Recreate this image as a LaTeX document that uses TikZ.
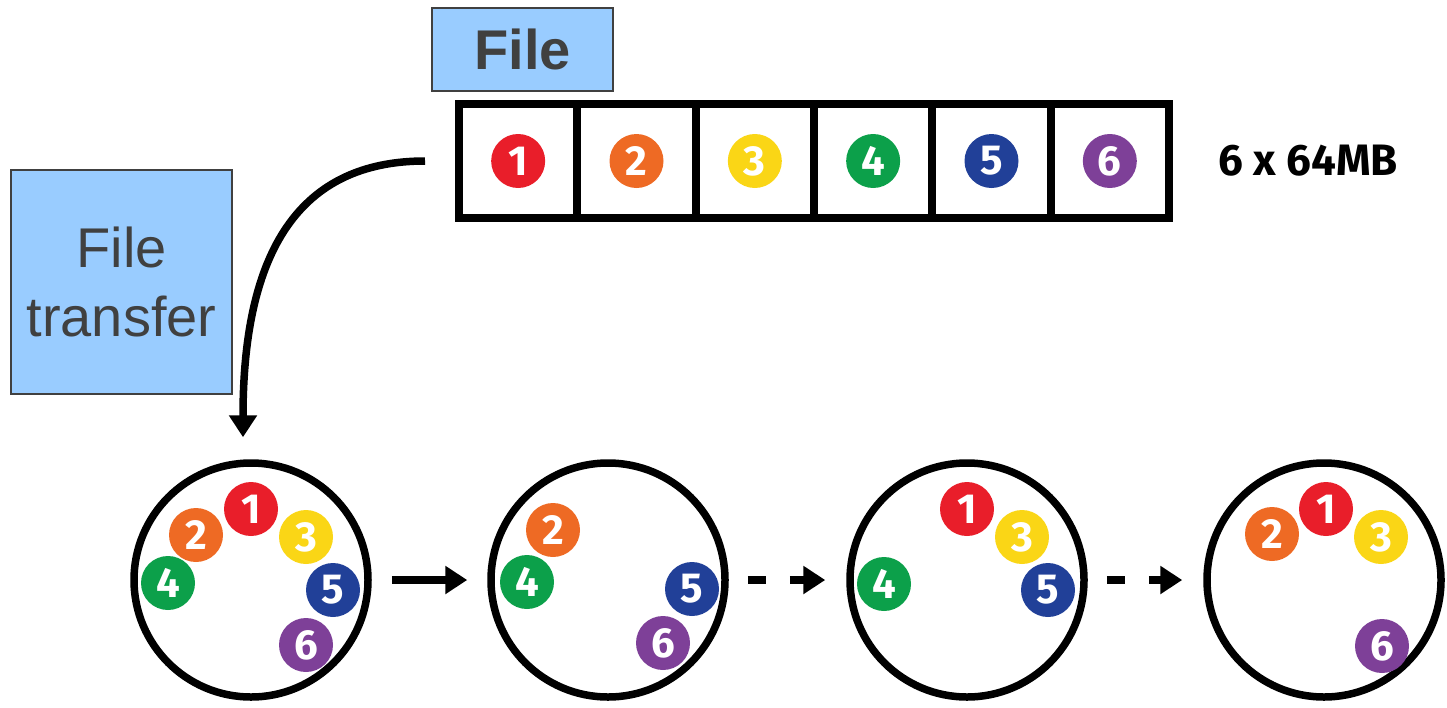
\documentclass[tikz,border=0pt]{standalone}
\usepackage{fontspec}
\setmainfont{Liberation Sans}
\newfontfamily\chunkfont{Fira Sans}
\usepackage{tikz}
\usetikzlibrary{arrows.meta}
\definecolor{1}{RGB}{233,30,42}
\definecolor{2}{RGB}{238,106,36}
\definecolor{3}{RGB}{250,214,22}
\definecolor{4}{RGB}{12,160,74}
\definecolor{5}{RGB}{33,64,152}
\definecolor{6}{RGB}{126,64,152}
\definecolor{boxblue}{RGB}{153,204,255}
\definecolor{boxtext}{RGB}{64,64,64}

\tikzset{
  cell/.style={draw, line width=8pt, minimum width=118.33pt, minimum height=114pt, inner sep=0pt},
  disk/.style={circle, draw, line width=7.5pt, minimum size=234pt, inner sep=0pt},
  chunk/.style={circle, fill=#1, minimum size=54pt, inner sep=0pt, text=white,
    font=\chunkfont\bfseries\fontsize{42}{42}\selectfont},
  tag/.style={draw=boxtext, fill=boxblue, line width=1.2pt, text=boxtext, inner sep=0pt},
  fat/.style={line width=7.5pt, -{Triangle[length=22pt,width=27pt]}},
}

\begin{document}
\begin{tikzpicture}[x=1pt, y=-1pt]
  \useasboundingbox (0,0) rectangle (1447,707);
  % the file, cut in 6 chunks
  \foreach \i in {1,...,6}
    \node[cell] (c\i) at ({459+(\i-0.5)*118.33},161) {};
  \foreach \i in {1,...,6}
    \node[chunk=\i] (k\i) at (c\i) {\i};
  \node[font=\chunkfont\bfseries\fontsize{44}{44}\selectfont] (size) at (1308,161) {6 x 64MB};
  \node[tag, minimum width=181pt, minimum height=83pt, font=\bfseries\fontsize{56}{56}\selectfont] (file) at (522.5,49.5) {File};
  \node[tag, minimum width=221pt, minimum height=224pt, align=center, font=\fontsize{56}{69}\selectfont] (transfer) at (121.5,282) {File\\transfer};

  % disks
  \foreach \d/\x in {1/251, 2/608, 3/967, 4/1324}
    \node[disk] (disk\d) at (\x,580) {};
  \foreach \n/\dx/\dy in {1/0/-71, 2/-55/-45, 3/55/-43, 4/-83/3, 5/82/10, 6/55/65}
    \node[chunk=\n] (a\n) at ([shift={(\dx,\dy)}]disk1) {\n};
  \foreach \n/\dx/\dy in {2/-55/-50, 4/-81/2, 5/84/9, 6/55/63}
    \node[chunk=\n] (b\n) at ([shift={(\dx,\dy)}]disk2) {\n};
  \foreach \n/\dx/\dy in {1/0/-71, 3/55/-43, 4/-83/4, 5/81/10}
    \node[chunk=\n] (d\n) at ([shift={(\dx,\dy)}]disk3) {\n};
  \foreach \n/\dx/\dy in {1/2/-71, 2/-52/-46, 3/57/-43, 6/58/66}
    \node[chunk=\n] (e\n) at ([shift={(\dx,\dy)}]disk4) {\n};

  % arrows
  \draw[fat] ([xshift=-30pt]c1.west) .. controls +(-125,0) and +(0,-187) .. ([shift={(-8,-22)}]disk1.north);
  \draw[fat, shorten <=20pt, shorten >=20pt] (disk1) -- (disk2);
  \draw[fat, dash pattern=on 18pt off 24pt, shorten <=19pt, shorten >=21pt] (disk2) -- (disk3);
  \draw[fat, dash pattern=on 18pt off 24pt, shorten <=19pt, shorten >=21pt] (disk3) -- (disk4);
\end{tikzpicture}
\end{document}
